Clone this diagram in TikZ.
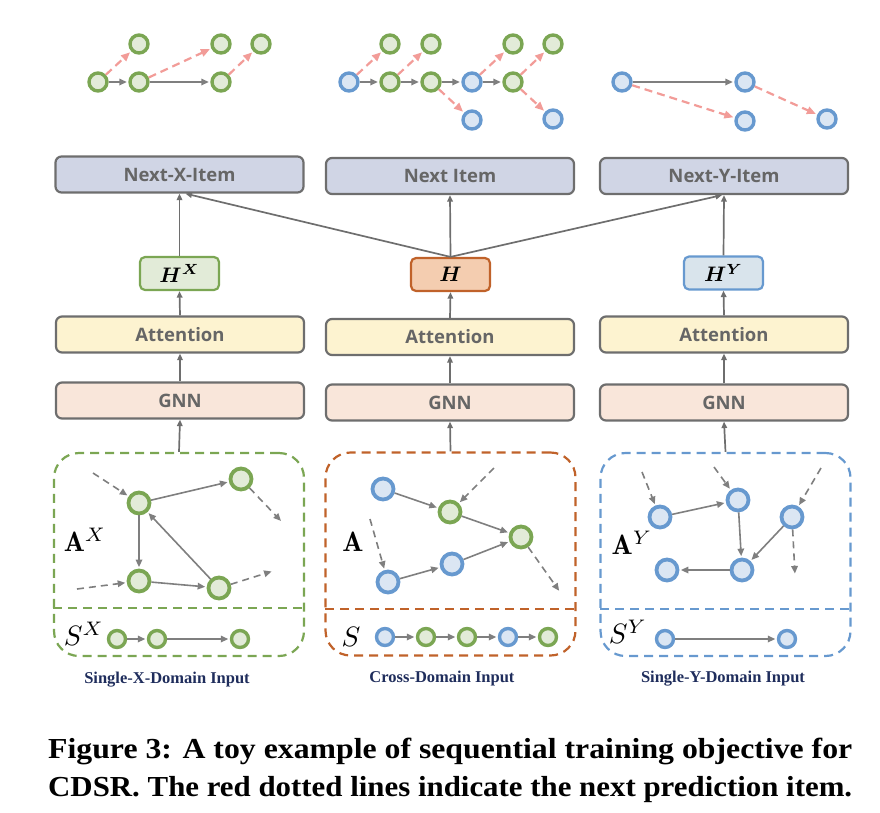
\documentclass[tikz,border=0pt]{standalone}
\usepackage{fontspec}
\usepackage{graphicx}
\usetikzlibrary{arrows.meta}
\newfontfamily\capfont{Liberation Serif}
\newfontfamily\boxfont{Open Sans}
\definecolor{gborder}{HTML}{7BA653}
\definecolor{gfill}{HTML}{E2EBD8}
\definecolor{bborder}{HTML}{6799CF}
\definecolor{bfill}{HTML}{DBE6F3}
\definecolor{oborder}{HTML}{C0622A}
\definecolor{ofill}{HTML}{F4CDB0}
\definecolor{hyfill}{HTML}{D9E4EC}
\definecolor{boxline}{HTML}{6E6E6E}
\definecolor{nextfill}{HTML}{D0D5E5}
\definecolor{attfill}{HTML}{FDF3D0}
\definecolor{gnnfill}{HTML}{F9E6DA}
\definecolor{boxtext}{HTML}{666666}
\definecolor{edgegray}{HTML}{7F7F7F}
\definecolor{redash}{HTML}{F29C98}
\definecolor{navy}{HTML}{1F2D5C}
\tikzset{
  layer/.style={draw=boxline, line width=2.2pt, rounded corners=6pt, minimum width=248pt, minimum height=36pt, inner sep=0pt, font=\boxfont\bfseries\fontsize{18.5}{20}\selectfont, text=boxtext},
  hbox/.style={line width=2.2pt, rounded corners=5pt, minimum width=79pt, minimum height=33pt, inner sep=0pt},
  flow/.style={draw=boxline, line width=1.7pt, -{Triangle[length=6.5pt,width=5.5pt]}},
  gnode/.style={circle, draw=gborder, fill=gfill, line width=3.8pt, minimum size=21pt, inner sep=0pt},
  bnode/.style={circle, draw=bborder, fill=bfill, line width=3.8pt, minimum size=21pt, inner sep=0pt},
  gtop/.style={gnode, line width=3.4pt, minimum size=18pt},
  btop/.style={bnode, line width=3.4pt, minimum size=18pt},
  gseq/.style={gnode, line width=3.4pt, minimum size=17pt},
  bseq/.style={bnode, line width=3.4pt, minimum size=17pt},
  edge/.style={draw=edgegray, line width=1.6pt, -{Triangle[length=7.5pt,width=6.5pt]}, shorten >=1.5pt},
  dedge/.style={edge, dash pattern=on 7pt off 5pt},
  pred/.style={draw=redash, line width=2.2pt, dash pattern=on 8pt off 5pt, -{Triangle[length=9pt,width=7.5pt]}, shorten >=1.5pt},
  region/.style={rounded corners=25pt, line width=2.2pt, dash pattern=on 9pt off 6pt, minimum width=250pt, minimum height=203pt, inner sep=0pt},
  divider/.style={line width=2.2pt, dash pattern=on 9pt off 6pt},
  biglabel/.style={inner sep=0pt},
  inlabel/.style={font=\capfont\bfseries\fontsize{16.5}{18}\selectfont, text=navy}
}
\newcommand{\mylbl}[1]{\scalebox{2.8}{#1}}
\newcommand{\myhlbl}[1]{\scalebox{2.1}{\boldmath#1}}
\begin{document}
\begin{tikzpicture}[x=1pt,y=-1pt]
\useasboundingbox (0,0) rectangle (880,812);

% ---------- top example sequences ----------
\node[gtop] (a1) at (98,82) {};
\node[gtop] (a2) at (139,44) {};
\node[gtop] (a3) at (139,82) {};
\node[gtop] (a4) at (221,44) {};
\node[gtop] (a5) at (221,82) {};
\node[gtop] (a6) at (261,44) {};
\draw[edge] (a1) -- (a3);
\draw[edge] (a3) -- (a5);
\draw[pred] (a1) -- (a2);
\draw[pred] (a3) -- (a4);
\draw[pred] (a5) -- (a6);

\node[btop] (c1) at (349,82) {};
\node[gtop] (c2) at (390,44) {};
\node[gtop] (c3) at (390,82) {};
\node[gtop] (c4) at (431,44) {};
\node[gtop] (c5) at (431,82) {};
\node[btop] (c6) at (472,120) {};
\node[btop] (c7) at (472,82) {};
\node[gtop] (c8) at (513,44) {};
\node[gtop] (c9) at (513,82) {};
\node[gtop] (c10) at (553,44) {};
\node[btop] (c11) at (553,119) {};
\draw[edge] (c1) -- (c3);
\draw[edge] (c3) -- (c5);
\draw[edge] (c5) -- (c7);
\draw[edge] (c7) -- (c9);
\draw[pred] (c1) -- (c2);
\draw[pred] (c3) -- (c4);
\draw[pred] (c5) -- (c6);
\draw[pred] (c7) -- (c8);
\draw[pred] (c9) -- (c10);
\draw[pred] (c9) -- (c11);

\node[btop] (d1) at (622,82) {};
\node[btop] (d2) at (745,82) {};
\node[btop] (d3) at (745,121) {};
\node[btop] (d4) at (827,119) {};
\draw[edge] (d1) -- (d2);
\draw[pred] (d1) -- (d3);
\draw[pred] (d2) -- (d4);

% ---------- layer boxes ----------
\node[layer, fill=nextfill] (nextX) at (179.5,174.5) {Next-X-Item};
\node[layer, fill=nextfill] (nextM) at (450,176) {Next Item};
\node[layer, fill=nextfill] (nextY) at (724,176) {Next-Y-Item};

\node[hbox, draw=gborder, fill=gfill] (hX) at (179.5,273.5) {\myhlbl{$H^{X}$}};
\node[hbox, draw=oborder, fill=ofill] (hM) at (450.5,274.5) {\myhlbl{$H$}};
\node[hbox, draw=bborder, fill=hyfill] (hY) at (723.5,273) {\myhlbl{$H^{Y}$}};

\node[layer, fill=attfill] (attX) at (180,334.5) {Attention};
\node[layer, fill=attfill] (attM) at (450,337) {Attention};
\node[layer, fill=attfill] (attY) at (724,334.5) {Attention};

\node[layer, fill=gnnfill] (gnnX) at (180,400.5) {GNN};
\node[layer, fill=gnnfill] (gnnM) at (450,402.5) {GNN};
\node[layer, fill=gnnfill] (gnnY) at (724,402.5) {GNN};

% ---------- input regions ----------
\node[region, draw=gborder] (regX) at (179,554.5) {};
\node[region, draw=oborder] (regM) at (450.5,554) {};
\node[region, draw=bborder] (regY) at (725.5,554.5) {};
\draw[divider, draw=gborder] (53,608) -- (305,608);
\draw[divider, draw=oborder] (325,609) -- (576,609);
\draw[divider, draw=bborder] (600,609) -- (851,609);

% ---------- flow arrows ----------
\draw[flow] (regX.north) -- (gnnX.south);
\draw[flow] (regM.north) -- (gnnM.south);
\draw[flow] (regY.north) -- (gnnY.south);
\draw[flow] (gnnX.north) -- (attX.south);
\draw[flow] (gnnM.north) -- (attM.south);
\draw[flow] (gnnY.north) -- (attY.south);
\draw[flow] (attX.north) -- (hX.south);
\draw[flow] (attM.north) -- (hM.south);
\draw[flow] (attY.north) -- (hY.south);
\draw[flow] (hX.north) -- (nextX.south);
\draw[flow] (hM.north) -- (nextM.south);
\draw[flow] (hY.north) -- (nextY.south);
\draw[flow] (hM.north) -- ([xshift=6pt]nextX.south);
\draw[flow] (hM.north) -- ([xshift=-2pt]nextY.south);

% ---------- region X graph ----------
\node[biglabel] (lAX) at (85,540) {\mylbl{$\mathbf{A}^{X}$}};
\node[gnode] (n1) at (139,503) {};
\node[gnode] (n2) at (241,479) {};
\node[gnode] (n3) at (139,581) {};
\node[gnode] (n4) at (219,588) {};
\draw[edge] (n1) -- (n2);
\draw[edge] (n1) -- (n3);
\draw[edge] (n3) -- (n4);
\draw[edge] (n4) -- (n1);
\coordinate (xd1) at (93,473);
\coordinate (xd2) at (282,522);
\coordinate (xd3) at (77,589);
\coordinate (xd4) at (273,571);
\draw[dedge] (xd1) -- (n1);
\draw[dedge] (n2) -- (xd2);
\draw[dedge] (xd3) -- (n3);
\draw[dedge] (n4) -- (xd4);

\node[biglabel] (lSX) at (84,634) {\mylbl{$S^{X}$}};
\node[gseq] (sx1) at (117,639) {};
\node[gseq] (sx2) at (157,639) {};
\node[gseq] (sx3) at (240,639) {};
\draw[edge] (sx1) -- (sx2);
\draw[edge] (sx2) -- (sx3);

% ---------- region cross graph ----------
\node[biglabel] (lA) at (353,542) {\mylbl{$\mathbf{A}$}};
\node[bnode] (b1) at (383,489) {};
\node[gnode] (g1) at (450,512) {};
\node[gnode] (g2) at (521,537) {};
\node[bnode] (b2) at (452,564) {};
\node[bnode] (b3) at (388,582) {};
\draw[edge] (b1) -- (g1);
\draw[edge] (g1) -- (g2);
\draw[edge] (b3) -- (b2);
\draw[edge] (b2) -- (g2);
\coordinate (md1) at (494,468);
\coordinate (md2) at (370,519);
\coordinate (md3) at (560,592);
\draw[dedge] (md1) -- (g1);
\draw[dedge] (md2) -- (b3);
\draw[dedge] (g2) -- (md3);

\node[biglabel] (lS) at (351,637) {\mylbl{$S$}};
\node[bseq] (s1) at (385,637) {};
\node[gseq] (s2) at (426,637) {};
\node[gseq] (s3) at (467,637) {};
\node[bseq] (s4) at (508,637) {};
\node[gseq] (s5) at (548,637) {};
\draw[edge] (s1) -- (s2);
\draw[edge] (s2) -- (s3);
\draw[edge] (s3) -- (s4);
\draw[edge] (s4) -- (s5);

% ---------- region Y graph ----------
\node[biglabel] (lAY) at (632,543) {\mylbl{$\mathbf{A}^{Y}$}};
\node[bnode] (y1) at (660,517) {};
\node[bnode] (y2) at (738,500) {};
\node[bnode] (y3) at (792,517) {};
\node[bnode] (y4) at (667,570) {};
\node[bnode] (y5) at (742,570) {};
\draw[edge] (y1) -- (y2);
\draw[edge] (y2) -- (y5);
\draw[edge] (y3) -- (y5);
\draw[edge] (y5) -- (y4);
\coordinate (yd1) at (642,472);
\coordinate (yd2) at (714,467);
\coordinate (yd3) at (821,468);
\coordinate (yd4) at (795,575);
\draw[dedge] (yd1) -- (y1);
\draw[dedge] (yd2) -- (y2);
\draw[dedge] (yd3) -- (y3);
\draw[dedge] (y3) -- (yd4);

\node[biglabel] (lSY) at (628,632) {\mylbl{$S^{Y}$}};
\node[bseq] (t1) at (665,639) {};
\node[bseq] (t2) at (787,639) {};
\draw[edge] (t1) -- (t2);

% ---------- region captions ----------
\node[inlabel] (capX) at (167,680) {Single-X-Domain Input};
\node[inlabel] (capM) at (442,679) {Cross-Domain Input};
\node[inlabel] (capY) at (723,679) {Single-Y-Domain Input};

% ---------- figure caption ----------
\node[anchor=base west, inner sep=0pt] (fig1) at (48,758) {\resizebox{804pt}{\height}{\capfont\bfseries\fontsize{29}{31}\selectfont Figure 3: A toy example of sequential training objective for}};
\node[anchor=base west, inner sep=0pt] (fig2) at (48,796) {\resizebox{804pt}{\height}{\capfont\bfseries\fontsize{29}{31}\selectfont CDSR. The red dotted lines indicate the next prediction item.}};
\end{tikzpicture}
\end{document}
